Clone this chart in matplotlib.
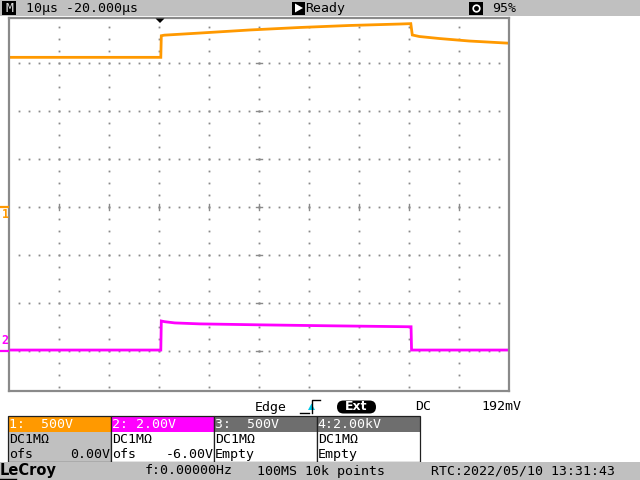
import matplotlib
matplotlib.use("Agg")
import matplotlib.pyplot as plt
from matplotlib.patches import Rectangle, FancyBboxPatch, Polygon

ch1_t = [-30, 0.3, 0.4, 1.0, 8.1, 18.1, 28.1, 38.1, 48.1, 50.3, 50.6, 52.0, 56.0, 62.0, 70.0]
ch1_v = [1559, 1559, 1784, 1790, 1812, 1844, 1870, 1891, 1906, 1910, 1792, 1776, 1755, 1729, 1706]
ch2_t = [-30, 0.3, 0.4, 1.1, 3.1, 8.1, 20.1, 34.1, 50.1, 50.35, 50.45, 70]
ch2_v = [0.04, 0.04, 1.25, 1.22, 1.17, 1.13, 1.09, 1.05, 1.01, 1.01, 0.04, 0.04]

ch1_scale, ch1_ofs = 500.0, 0.0
ch2_scale, ch2_ofs = 2.0, -6.0
time_div, t_left = 10.0, -30.0

ORANGE = "#ff9900"
MAGENTA = "#ff00ff"
GRID = "#8a8a8a"
BAR = "#c0c0c0"
DARK = "#6e6e6e"
MONO = "DejaVu Sans Mono"

fig = plt.figure(figsize=(6.4, 4.8), dpi=100, facecolor="white")

# pixel geometry of the graticule
px_left, px_right = 9.3, 509.3
px_top, px_bot, px_center, px_div = 18.0, 391.0, 207.0, 48.0
y_hi = (px_center - px_top) / px_div
y_lo = -(px_bot - px_center) / px_div

ax = fig.add_axes([px_left / 640, 1 - px_bot / 480,
                   (px_right - px_left) / 640, (px_bot - px_top) / 480])
ax.set_xlim(t_left, t_left + 10 * time_div)
ax.set_ylim(y_lo, y_hi)
ax.set_xticks([]); ax.set_yticks([])
for s in ax.spines.values():
    s.set_color(GRID); s.set_linewidth(1.6)

# dotted graticule
vx, vy = [], []
for i in range(1, 10):
    t = t_left + i * time_div
    for k in range(-16, 17):
        y = k * 0.25
        if y_lo < y < y_hi:
            vx.append(t); vy.append(y)
for j in range(-3, 4):
    for k in range(1, 50):
        vx.append(t_left + k * 0.2 * time_div); vy.append(j)
ax.plot(vx, vy, ls="none", marker="s", ms=1.3, mew=0, color=GRID)
# ticks on centre lines
for i in range(1, 10):
    t = t_left + i * time_div
    ax.plot([t, t], [-0.06, 0.06], color=GRID, lw=1.0)
for j in range(-3, 4):
    ax.plot([t_left + 5 * time_div - 0.6, t_left + 5 * time_div + 0.6], [j, j], color=GRID, lw=1.0)

# traces
ax.plot(ch1_t, [(v + ch1_ofs) / ch1_scale for v in ch1_v], color=ORANGE, lw=2.0, solid_joinstyle="miter")
ax.plot(ch2_t, [(v + ch2_ofs) / ch2_scale for v in ch2_v], color=MAGENTA, lw=2.0, solid_joinstyle="miter")

# ---------------- overlay (screen furniture, pixel coordinates) ----------------
ov = fig.add_axes([0, 0, 1, 1], facecolor="none")
ov.set_xlim(0, 640); ov.set_ylim(480, 0); ov.axis("off")

def txt(x, y, s, color="black", ha="left", size=9.5, **kw):
    ov.text(x, y, s, color=color, ha=ha, va="center", fontsize=size, family=MONO, **kw)

# top bar
ov.add_patch(Rectangle((0, 0), 640, 16, color=BAR, lw=0))
ov.add_patch(Rectangle((2, 1), 14, 14, color="black", lw=0))
txt(9, 8.5, "M", color="#dddddd", ha="center")
txt(26, 8.5, "10\u00b5s -20.000\u00b5s")
ov.add_patch(Rectangle((292, 1.5), 13, 13, color="black", lw=0))
ov.add_patch(Polygon([[295, 3.5], [295, 12.5], [303, 8]], closed=True, color="white", lw=0))
txt(305, 8.5, "Ready")
ov.add_patch(Rectangle((469, 1.5), 14, 13, color="black", lw=0))
ov.plot([476], [8], marker="o", ms=6, color="white", mew=0)
ov.plot([476], [8], marker="o", ms=3.5, color="black", mew=0)
txt(492, 8.5, "95%")

# trigger position marker and channel markers
ov.add_patch(Polygon([[155.5, 18.5], [164.5, 18.5], [160, 23]], closed=True, color="black", lw=0))
ov.plot([1, 8], [207, 207], color=ORANGE, lw=1.6)
ov.text(5, 214, "1", color=ORANGE, ha="center", va="center", fontsize=8.5, family=MONO, weight="bold")
ov.plot([1, 8], [351, 351], color=MAGENTA, lw=1.6)
ov.text(5, 341, "2", color=MAGENTA, ha="center", va="center", fontsize=8.5, family=MONO, weight="bold")

# trigger line
txt(255, 407, "Edge")
ov.plot([300, 309], [413, 413], color="black", lw=1.0)
ov.plot([311.5, 311.5, 320], [413, 399.5, 399.5], color="black", lw=1.0)
ov.add_patch(Polygon([[308, 410], [315, 410], [311.5, 403.5]], closed=True, color="#00c8e8", lw=0))
ov.add_patch(FancyBboxPatch((337, 400.5), 39, 13, boxstyle="round,pad=0,rounding_size=6.5",
                            color="black", lw=0))
ov.text(356.5, 407, "Ext", color="white", ha="center", va="center", fontsize=9,
        family="DejaVu Sans", weight="bold")
txt(415, 407, "DC")
txt(481, 407, "192mV")

# channel boxes
box_x = [8.3, 111.0, 214.0, 317.0]
box_w = 103.0
head_cols = [ORANGE, MAGENTA, DARK, DARK]
body_cols = [BAR, "white", "white", "white"]
heads = ["1:  500V", "2: 2.00V", "3:  500V", "4:2.00kV"]
row2 = ["DC1M\u03a9"] * 4
for i in range(4):
    x0 = box_x[i]
    ov.add_patch(Rectangle((x0, 416), box_w, 15.5, color=head_cols[i], lw=0))
    ov.add_patch(Rectangle((x0, 431.5), box_w, 30.5, color=body_cols[i], lw=0))
    ov.add_patch(Rectangle((x0, 416), box_w, 46, fill=False, edgecolor="#202020", lw=0.9))
    txt(x0 + 0.7, 424, heads[i], color="white")
    txt(x0 + 0.7, 439.5, row2[i])
txt(8.8, 454.5, "ofs")
txt(110.5, 454.5, "0.00V", ha="right")
txt(111.7, 454.5, "ofs")
txt(213.5, 454.5, "-6.00V", ha="right")
txt(214.7, 454.5, "Empty")
txt(317.7, 454.5, "Empty")

# bottom status bar
ov.add_patch(Rectangle((0, 462), 640, 18, color=BAR, lw=0))
ov.text(0, 471, "LeCroy", color="black", ha="left", va="center", fontsize=10.5,
        family="DejaVu Sans", weight="bold")
ov.plot([0, 16], [478.5, 478.5], color="black", lw=1.0)
txt(145, 471, "f:0.00000Hz")
txt(257, 471, "100MS 10k points")
txt(431, 471, "RTC:2022/05/10 13:31:43")

fig.savefig("out.png", dpi=100, facecolor="white")
